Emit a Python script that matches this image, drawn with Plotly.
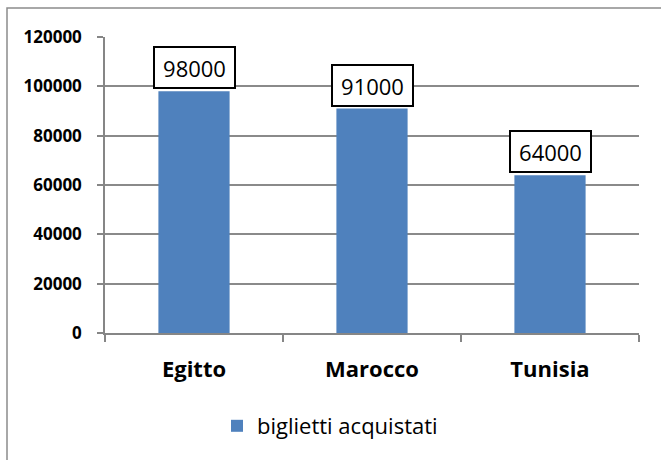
import plotly.graph_objects as go

categories = ["Egitto", "Marocco", "Tunisia"]
values = [98000, 91000, 64000]
series_name = "biglietti acquistati"
y_ticks = [0, 20000, 40000, 60000, 80000, 100000, 120000]

W, H = 661, 460
ml, mr, mt, mb = 105, 22, 37, 127
pw, ph = W - ml - mr, H - mt - mb

fig = go.Figure()
fig.add_trace(go.Bar(
    x=categories, y=values, name=series_name,
    marker=dict(color="#4F81BD", line=dict(width=0)),
    width=0.4, showlegend=True,
))

for c, v in zip(categories, values):
    fig.add_annotation(
        x=c, y=v, xref="x", yref="y", text=str(v), showarrow=False,
        yanchor="bottom", yshift=2,
        font=dict(family="Open Sans", size=22, color="black"),
        bgcolor="white", bordercolor="black", borderwidth=2, borderpad=3,
        width=73, height=33,
    )

# outer chart border (extends past right/bottom edge as in reference)
fig.add_shape(type="rect", xref="paper", yref="paper",
              x0=(7 - ml) / pw, x1=(W + 20 - ml) / pw,
              y0=-(H + 20 - (mt + ph)) / ph, y1=(mt + ph - 8) / ph,
              line=dict(color="#8c8c8c", width=1.5), layer="above")

fig.update_layout(
    width=W, height=H,
    margin=dict(l=ml, r=mr, t=mt, b=mb),
    paper_bgcolor="white", plot_bgcolor="white",
    font=dict(family="Open Sans", color="black"),
    legend=dict(orientation="h", x=(330 - ml) / pw, xanchor="center",
                y=-(426 - (mt + ph)) / ph, yanchor="middle",
                font=dict(size=22, family="Open Sans"),
                itemwidth=30),
    xaxis=dict(
        showline=True, linecolor="#868686", linewidth=2,
        ticks="outside", tickson="boundaries", ticklen=7, tickcolor="#868686",
        tickwidth=1.5,
        tickfont=dict(size=22, family="Open Sans", color="black", weight="bold"),
        showgrid=False, ticklabelstandoff=16,
    ),
    yaxis=dict(
        range=[0, 120000], tickvals=y_ticks, ticktext=[str(t) for t in y_ticks],
        showline=True, linecolor="#868686", linewidth=1.5,
        ticks="outside", ticklen=6, tickcolor="#868686", tickwidth=1.5,
        showgrid=True, gridcolor="#8a8a8a", gridwidth=1.5,
        zeroline=False,
        tickfont=dict(size=17, family="Open Sans", color="black", weight="bold"),
        ticklabelstandoff=12,
    ),
)

fig.write_html("out.html", config={"displayModeBar": False},
               post_script="document.body.style.margin='0px';")
